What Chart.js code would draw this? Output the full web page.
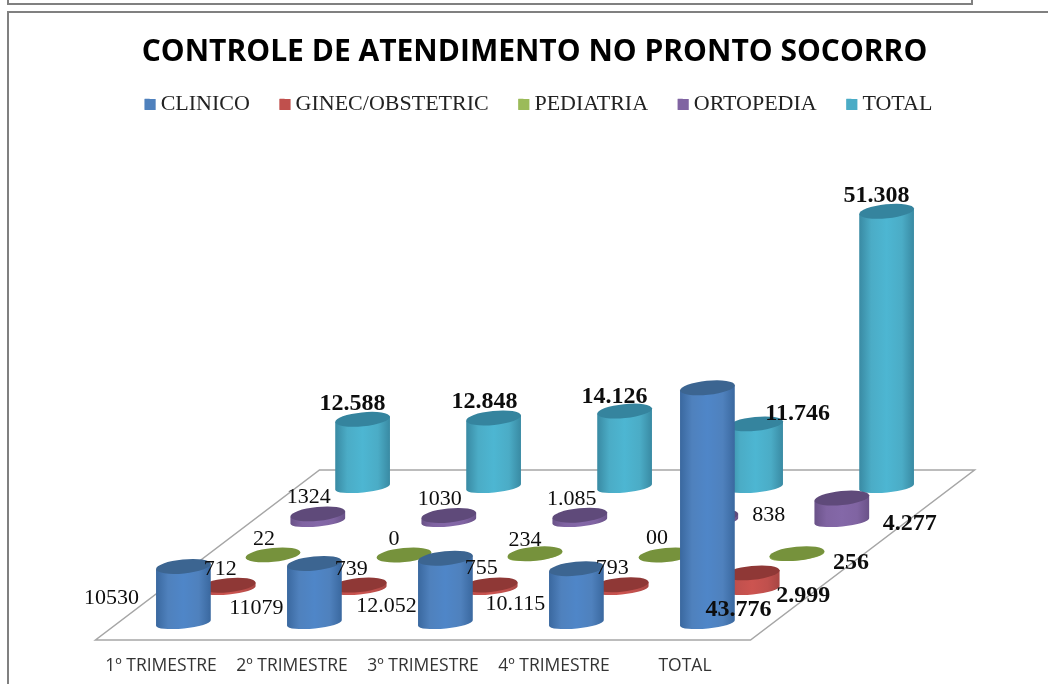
<!DOCTYPE html>
<html><head><meta charset="utf-8">
<style>html,body{margin:0;padding:0;background:#fff;overflow:hidden}canvas{display:block}</style>
<script src="https://cdn.jsdelivr.net/npm/chart.js@4"></script>
</head><body>
<div style="width:1048px;height:684px;position:relative"><canvas id="c"></canvas></div>
<script>
const categories = ['1º TRIMESTRE','2º TRIMESTRE','3º TRIMESTRE','4º TRIMESTRE','TOTAL'];
const clinico    = [10530,11079,12052,10115,43776];
const ginec      = [712,739,755,793,2999];
const pediatria  = [22,0,234,0,256];
const ortopedia  = [1324,1030,1085,838,4277];
const total      = [12588,12848,14126,11746,51308];
const clinicoText   = ['10530','11079','12.052','10.115','43.776'];
const ginecText     = ['712','739','755','793','2.999'];
const pediatriaText = ['22','0','234','00','256'];
const ortopediaText = ['1324','1030','1.085','838','4.277'];
const totalText     = ['12.588','12.848','14.126','11.746','51.308'];
// label anchor offsets from each cylinder's base centre
const labelOffsets = [
  [[-72,-25],[-58,-15],[-59,-17],[-61,-19],[31,-13]],
  [[-8,-20],[-8,-20],[-9,-21],[-9,-21],[51,7]],
  [[-9,-16],[-10,-16],[-10,-15],[-9,-17],[54,8]],
  [[-9,-24],[-9,-22],[-8,-22],[58,-6],[68,3]],
  [[-10,-83],[-9,-85],[-10,-90],[42,-73],[-10,-291]]
];
const DEPTH_X = 224, DEPTH_Y = 170, ROWS = 5;
const RX_ROT = -0.1, RY_TOP = 7, RY_BOTTOM = 5.5;
const palette = [
  {name:'CLINICO', key:'#4f81bd', edge:'#3a689f', mid:'#4f86c8', top:'#3c6591'},
  {name:'GINEC/OBSTETRIC', key:'#c0504d', edge:'#a84643', mid:'#cc5450', top:'#8f3836'},
  {name:'PEDIATRIA', key:'#9bbb59', edge:'#88a64c', mid:'#a4c45f', top:'#76923c'},
  {name:'ORTOPEDIA', key:'#8064a2', edge:'#6a5288', mid:'#8468a8', top:'#5f4a7a'},
  {name:'TOTAL', key:'#4bacc6', edge:'#398aa3', mid:'#4db6d2', top:'#35849e'}
];
const texts = [clinicoText,ginecText,pediatriaText,ortopediaText,totalText];
const values = [clinico,ginec,pediatria,ortopedia,total];

function rowOffset(i){ return {dx:(i+0.5)/ROWS*DEPTH_X, dy:-(i+0.5)/ROWS*DEPTH_Y}; }

function cylinder(ctx, cx, baseY, topY, rx, col){
  const c = Math.cos(RX_ROT)*rx, s = Math.sin(RX_ROT)*rx;
  const g = ctx.createLinearGradient(cx-c,0,cx+c,0);
  g.addColorStop(0,col.edge); g.addColorStop(0.22,col.key); g.addColorStop(0.5,col.mid);
  g.addColorStop(0.78,col.key); g.addColorStop(1,col.edge);
  ctx.beginPath();
  ctx.ellipse(cx,baseY,rx,RY_BOTTOM,RX_ROT,Math.PI,0,true);
  ctx.lineTo(cx+c,topY+s);
  ctx.lineTo(cx-c,topY-s);
  ctx.closePath();
  ctx.fillStyle = g; ctx.fill();
  ctx.beginPath();
  ctx.ellipse(cx,topY,rx,RY_TOP,RX_ROT,0,Math.PI*2);
  ctx.fillStyle = col.top; ctx.fill();
}

const cylinders = {
  id:'cylinders',
  afterLayout(chart){
    const lg = chart.legend;
    lg.left += 8;
    lg.legendHitBoxes.forEach(h=>{h.left += 4;});
  },
  beforeDatasetsDraw(chart){
    const {ctx,chartArea:a} = chart;
    ctx.save();
    ctx.strokeStyle='#a6a6a6'; ctx.lineWidth=1.5;
    ctx.beginPath();
    ctx.moveTo(a.left,a.bottom); ctx.lineTo(a.right,a.bottom);
    ctx.lineTo(a.right+DEPTH_X,a.bottom-DEPTH_Y); ctx.lineTo(a.left+DEPTH_X,a.bottom-DEPTH_Y);
    ctx.closePath(); ctx.stroke();
    ctx.restore();
  },
  beforeDatasetDraw(chart,args){
    const i = args.index, {ctx} = chart, o = rowOffset(i);
    ctx.save();
    args.meta.data.forEach(el=>{
      cylinder(ctx, el.x+o.dx, el.base+o.dy, el.y+o.dy, el.width/2, palette[i]);
    });
    ctx.restore();
    return false;
  },
  afterDatasetsDraw(chart){
    const {ctx} = chart;
    ctx.save();
    ctx.textAlign='center'; ctx.textBaseline='middle'; ctx.fillStyle='#0d0d0d';
    chart.data.datasets.forEach((ds,i)=>{
      const o = rowOffset(i), meta = chart.getDatasetMeta(i);
      meta.data.forEach((el,j)=>{
        const last = j===categories.length-1 || i===ROWS-1;
        ctx.font = (last?'bold 24px':'22px')+' "Liberation Serif"';
        const off = labelOffsets[i][j];
        ctx.fillText(texts[i][j], el.x+o.dx+off[0], el.base+o.dy+off[1]);
      });
    });
    ctx.restore();
  },
  afterDraw(chart){
    const {ctx} = chart;
    ctx.save();
    chart.legend.legendHitBoxes.forEach((h,i)=>{
      ctx.fillStyle = palette[i].key;
      ctx.fillRect(h.left, Math.round(h.top+(h.height-11)/2), 11, 11);
    });
    ctx.strokeStyle='#808080'; ctx.lineWidth=2;
    ctx.beginPath();
    ctx.moveTo(8,0); ctx.lineTo(8,4); ctx.lineTo(972,4); ctx.lineTo(972,0);
    ctx.moveTo(8,684); ctx.lineTo(8,12); ctx.lineTo(1048,12);
    ctx.stroke();
    ctx.restore();
  }
};

new Chart(document.getElementById('c'),{
  type:'bar',
  data:{labels:categories,datasets:palette.map((p,i)=>({
    label:p.name,data:values[i],backgroundColor:p.key,borderWidth:0,grouped:false,barThickness:55
  }))},
  plugins:[cylinders],
  options:{
    responsive:true,maintainAspectRatio:false,animation:false,
    layout:{padding:{left:21,right:0,bottom:0,top:0}},
    plugins:{
      tooltip:{enabled:false},
      title:{display:true,text:'CONTROLE DE ATENDIMENTO NO PRONTO SOCORRO',color:'#000',
        font:{family:'"Open Sans"',weight:'bold',size:30},padding:{top:34.5,bottom:-7}},
      legend:{display:true,position:'top',
        labels:{boxWidth:5,boxHeight:11,padding:29.7,color:'#222',font:{family:'"Liberation Serif"',size:22}}}
    },
    scales:{
      x:{grid:{display:false,drawTicks:false},border:{display:false},afterFit(s){s.height=44;},
         ticks:{color:'#333',padding:15.5,font:{family:'"Open Sans"',size:17.5},maxRotation:0,autoSkip:false}},
      y:{position:'left',min:0,max:95800,grid:{display:false},border:{display:false},ticks:{display:false},
         afterFit(s){s.width=74.5;}},
      y2:{position:'right',min:0,max:95800,grid:{display:false},border:{display:false},ticks:{display:false},
         afterFit(s){s.width=297.5;}}
    }
  }
});
</script>
</body></html>
